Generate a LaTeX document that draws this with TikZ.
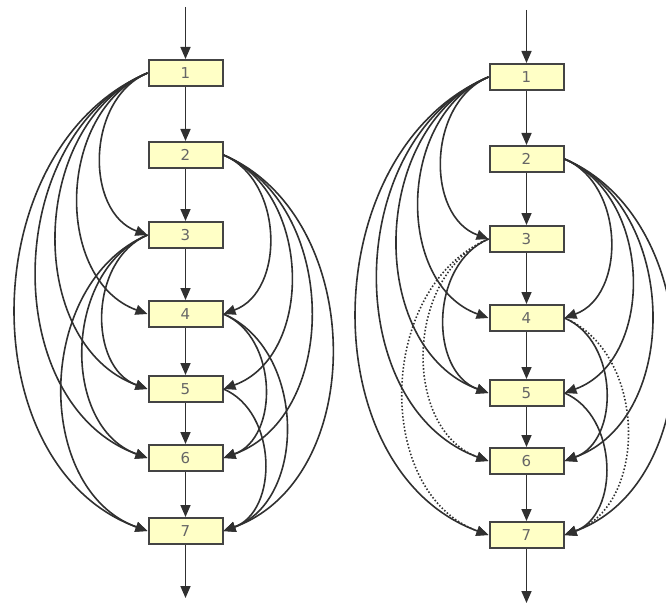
\documentclass[tikz,border=0pt]{standalone}
\usepackage{fontspec}
\setmainfont{DejaVu Sans}
\usetikzlibrary{arrows.meta}
\definecolor{boxfill}{HTML}{FFFFC6}
\definecolor{boxline}{HTML}{444444}
\definecolor{edgecol}{HTML}{303030}
\definecolor{txtcol}{HTML}{666666}
\begin{document}
\begin{tikzpicture}[x=1pt,y=1pt,
  blk/.style={draw=boxline, line width=2pt, fill=boxfill, minimum width=74pt,
    minimum height=26pt, inner sep=0pt, font=\fontsize{15}{15}\selectfont, text=txtcol},
  arr/.style={draw=edgecol, line width=1.6pt, -{Triangle[length=12pt,width=10pt]}},
  lft/.style={out=203, in=160, looseness=1.06},
  rgt/.style={out=-23, in=20, looseness=1.06},
  dotline/.style={dash pattern=on 1.5pt off 2pt}]
\useasboundingbox (0,0) rectangle (666,-604);
% left diagram
\node[blk] (L1) at (185.5,-73) {1};
\node[blk] (L2) at (185.5,-155) {2};
\node[blk] (L3) at (185.5,-235) {3};
\node[blk] (L4) at (185.5,-314) {4};
\node[blk] (L5) at (185.5,-389) {5};
\node[blk] (L6) at (185.5,-458) {6};
\node[blk] (L7) at (185.5,-531) {7};
\coordinate (Lin) at (185.5,-7);
\coordinate (Lout) at (185.5,-598);
% right diagram
\node[blk] (R1) at (526.5,-77) {1};
\node[blk] (R2) at (526.5,-159) {2};
\node[blk] (R3) at (526.5,-239) {3};
\node[blk] (R4) at (526.5,-318) {4};
\node[blk] (R5) at (526.5,-393) {5};
\node[blk] (R6) at (526.5,-461) {6};
\node[blk] (R7) at (526.5,-535) {7};
\coordinate (Rin) at (526.5,-10);
\coordinate (Rout) at (526.5,-603);
% vertical chain
\draw[arr] (Lin) -- (L1);
\draw[arr] (L7) -- (Lout);
\draw[arr] (Rin) -- (R1);
\draw[arr] (R7) -- (Rout);
\foreach \a/\b in {1/2,2/3,3/4,4/5,5/6,6/7}{
  \draw[arr] (L\a) -- (L\b);
  \draw[arr] (R\a) -- (R\b);
}
% left-side arcs
\foreach \a/\b in {1/3,1/4,1/5,1/6,1/7,3/5,3/6,3/7}
  \draw[arr] (L\a.west) to[lft] (L\b.west);
\foreach \a/\b in {1/3,1/4,1/5,1/6,1/7,3/5}
  \draw[arr] (R\a.west) to[lft] (R\b.west);
\foreach \a/\b in {3/6,3/7}
  \draw[arr,dotline] (R\a.west) to[lft] (R\b.west);
% right-side arcs
\foreach \a/\b in {2/4,2/5,2/6,2/7,4/6,4/7,5/7}
  \draw[arr] (L\a.east) to[rgt] (L\b.east);
\foreach \a/\b in {2/4,2/5,2/6,2/7,4/6,5/7}
  \draw[arr] (R\a.east) to[rgt] (R\b.east);
\draw[arr,dotline] (R4.east) to[rgt] (R7.east);
\end{tikzpicture}
\end{document}
